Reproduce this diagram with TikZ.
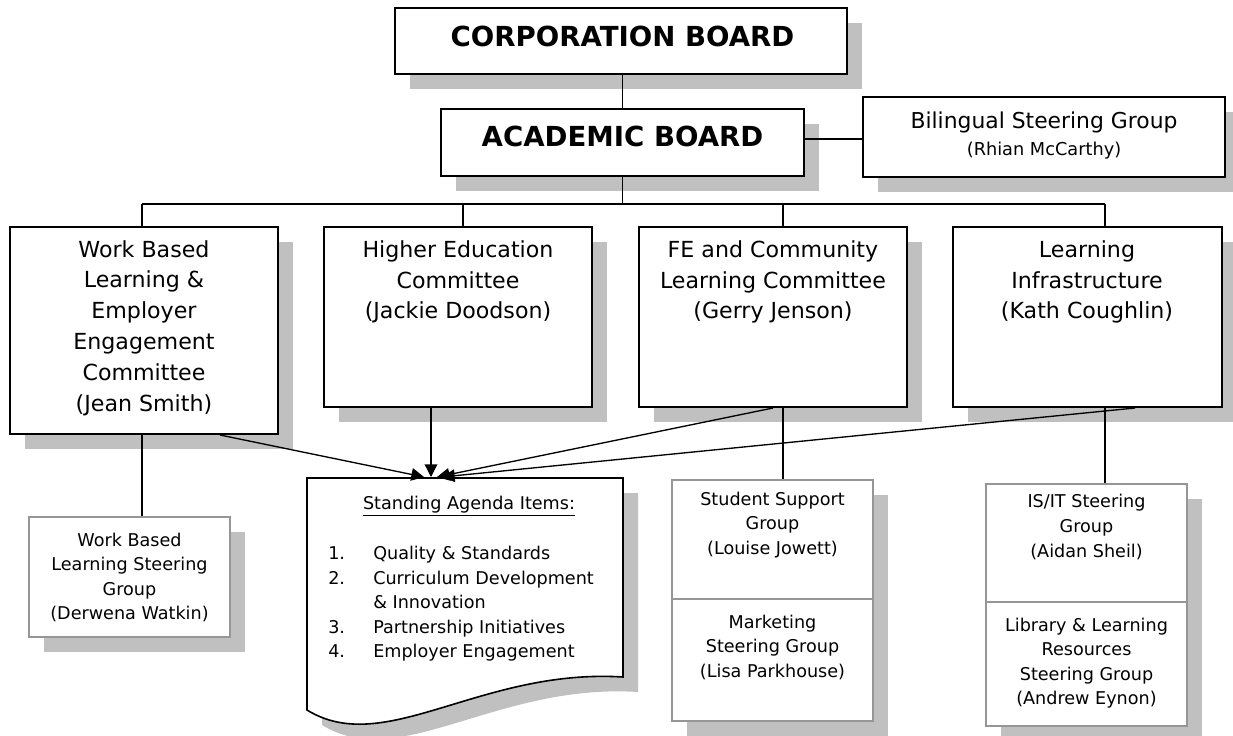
\documentclass[tikz,border=0pt]{standalone}
\usepackage{fontspec}
\setmainfont{DejaVu Sans}
\usetikzlibrary{arrows.meta,shadows,fit}
\definecolor{shadowgray}{RGB}{192,192,192}
\definecolor{grayline}{RGB}{150,150,150}
\begin{document}
\begin{tikzpicture}[x=0.75pt,y=-0.75pt,
  shbox/.style={draw=black, line width=1.5pt, fill=white, inner sep=0pt,
    drop shadow={shadow xshift=11.25pt, shadow yshift=-11.25pt, fill=shadowgray, opacity=1}},
  grbox/.style={draw=grayline, line width=1.2pt, fill=white, inner sep=0pt,
    drop shadow={shadow xshift=11.25pt, shadow yshift=-11.25pt, fill=shadowgray, opacity=1}},
  bigtxt/.style={font=\fontsize{20.7}{25}\selectfont\bfseries, inner sep=0pt},
  midtxt/.style={font=\fontsize{16.6}{23.1}\selectfont, align=center, inner sep=0pt},
  smtxt/.style={font=\fontsize{13.2}{18.4}\selectfont, align=center, inner sep=0pt},
  conn/.style={draw=black, line width=1pt},
  arr/.style={conn, -{Triangle[length=9.5pt,width=9.5pt]}}
]
\useasboundingbox (0,0) rectangle (1233,736);

% top boards
\node[shbox, fit={(395,8) (847,74)}] (corp) {};
\node[bigtxt] (corpt) at (622.5,36) {CORPORATION BOARD};
\node[shbox, fit={(441,109) (804,176)}] (acad) {};
\node[bigtxt] (acadt) at (622.5,136.5) {ACADEMIC BOARD};
\node[shbox, fit={(863,97) (1225,177)}] (bil) {};
\node[inner sep=0pt, font=\fontsize{16.4}{20}\selectfont] (bilt1) at (1044,122) {Bilingual Steering Group};
\node[inner sep=0pt, font=\fontsize{13.3}{16}\selectfont] (bilt2) at (1044,151) {(Rhian McCarthy)};

% committees
\node[shbox, fit={(10,227) (278,434)}] (wbl) {};
\node[midtxt] (wblt) at (144,328) {Work Based\\Learning \&\\Employer\\Engagement\\Committee\\(Jean Smith)};
\node[shbox, fit={(324,227) (592,407)}] (he) {};
\node[midtxt] (het) at (458,282) {Higher Education\\Committee\\(Jackie Doodson)};
\node[shbox, fit={(639,227) (907,407)}] (fe) {};
\node[midtxt] (fet) at (773,282) {FE and Community\\Learning Committee\\(Gerry Jenson)};
\node[shbox, fit={(953,227) (1222,407)}] (li) {};
\node[midtxt] (lit) at (1087,282) {Learning\\Infrastructure\\(Kath Coughlin)};

% sub groups
\node[grbox, fit={(29,517) (230,637)}] (wbls) {};
\node[smtxt] (wblst) at (129.5,577.5) {Work Based\\Learning Steering\\Group\\(Derwena Watkin)};
\node[grbox, fit={(672,480) (873,599)}] (stu) {};
\node[smtxt] (stut) at (772.5,525) {Student Support\\Group\\(Louise Jowett)};
\node[grbox, fit={(672,599) (873,721)}] (mkt) {};
\node[smtxt] (mktt) at (772.5,647) {Marketing\\Steering Group\\(Lisa Parkhouse)};
\node[grbox, fit={(986,484) (1187,602)}] (isit) {};
\node[smtxt] (isitt) at (1086.5,527) {IS/IT Steering\\Group\\(Aidan Sheil)};
\node[grbox, fit={(986,602) (1187,726)}] (lib) {};
\node[smtxt] (libt) at (1086.5,663) {Library \& Learning\\Resources\\Steering Group\\(Andrew Eynon)};

% standing agenda document
\fill[shadowgray, shift={(15,15)}] (307,478) -- (623,478) -- (623,677)
  .. controls (480,668) and (385,758) .. (307,710) -- cycle;
\draw[line width=1.2pt, fill=white] (307,478) -- (623,478) -- (623,677)
  .. controls (480,668) and (385,758) .. (307,710) -- cycle;
\node[inner sep=0pt, fit={(307,478) (623,710)}] (agenda) {};
\node[smtxt] (aghead) at (469,506) {\underline{Standing Agenda Items:}};
\node[smtxt, anchor=west, align=left] (items) at (328,604)
  {\begin{tabular}{@{}p{33.75pt}@{}l@{}}
   1.&Quality \& Standards\\
   2.&Curriculum Development\\
     &\& Innovation\\
   3.&Partnership Initiatives\\
   4.&Employer Engagement
   \end{tabular}};

% connectors
\coordinate (bus) at (622.5,204);
\coordinate (b1) at (142,204);
\coordinate (b2) at (463,204);
\coordinate (b3) at (783,204);
\coordinate (b4) at (1105,204);
\draw[conn] (corp.south -| acad.north) -- (acad.north);
\draw[conn] (acad.east |- 0,139) -- (bil.west |- 0,139);
\draw[conn] (acad.south) -- (bus);
\draw[conn] (b1) -- (b4);
\draw[conn] (b1) -- (b1 |- wbl.north);
\draw[conn] (b2) -- (b2 |- he.north);
\draw[conn] (b3) -- (b3 |- fe.north);
\draw[conn] (b4) -- (b4 |- li.north);

\draw[conn] (wbl.south -| b1) -- (b1 |- wbls.north);
\draw[conn] (fe.south -| b3) -- (b3 |- stu.north);
\draw[conn] (li.south -| b4) -- (b4 |- isit.north);

\coordinate (t1) at (424,477);
\coordinate (t2) at (431,477);
\coordinate (t3) at (437,477);
\coordinate (t4) at (442,477);
\draw[arr] (wbl.south -| 220,0) -- (t1);
\draw[arr] (he.south -| t2) -- (t2);
\draw[arr] (fe.south -| 773,0) -- (t3);
\draw[arr] (li.south -| 1135,0) -- (t4);
\end{tikzpicture}
\end{document}
